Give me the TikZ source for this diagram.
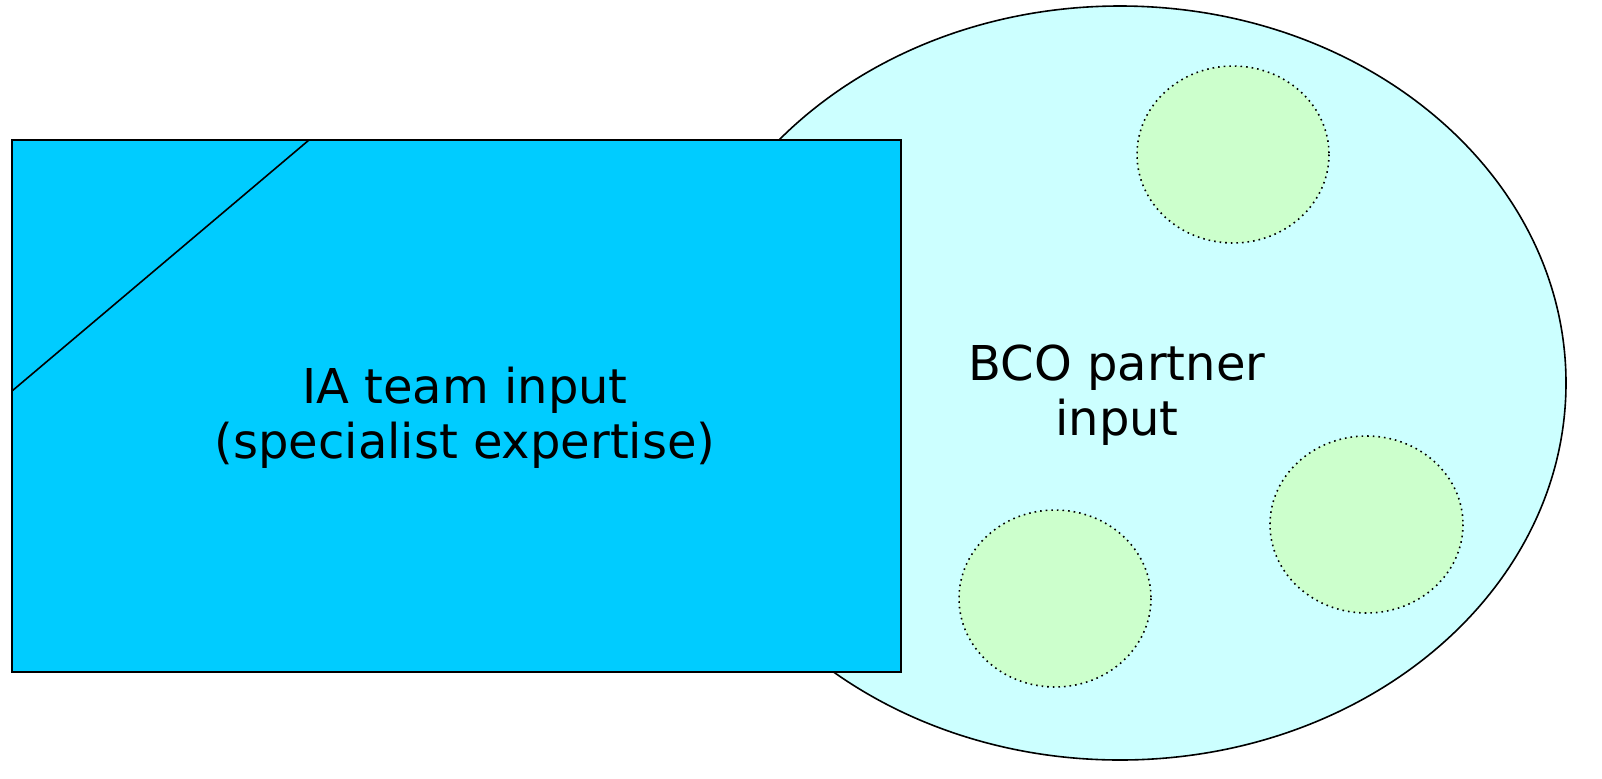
\documentclass[tikz,border=0pt]{standalone}
\usepackage{fontspec}
\setmainfont{DejaVu Sans}
\definecolor{rectblue}{HTML}{00CCFF}
\definecolor{palecyan}{HTML}{CCFFFF}
\definecolor{palegreen}{HTML}{CCFFCC}
\tikzset{
  bigoval/.style={draw=black, line width=0.8pt, fill=palecyan},
  subgroup/.style={draw=black, line width=0.8pt, dotted, fill=palegreen},
  iabox/.style={draw=black, line width=0.8pt, fill=rectblue},
  lbl/.style={font=\fontsize{24}{27.5}\selectfont, align=center, inner sep=0pt}
}
\begin{document}
\begin{tikzpicture}[x=0.5pt,y=-0.5pt]
\useasboundingbox (0,0) rectangle (1602,778);
\draw[bigoval] (1120,383) ellipse [x radius=446, y radius=377];
\draw[subgroup] (1233,154.5) ellipse [x radius=96, y radius=88.5];
\draw[subgroup] (1366.5,524.5) ellipse [x radius=96.5, y radius=88.5];
\draw[subgroup] (1055,598.5) ellipse [x radius=96, y radius=88.5];
\node[lbl] (bco) at (1117,395) {BCO partner\\input};
\draw[iabox] (12,140) rectangle (901,672);
\coordinate (d1) at (12,391);
\coordinate (d2) at (309,140);
\draw[line width=0.8pt] (d1) -- (d2);
\node[lbl] (ia) at (465,418) {IA team input\\(specialist expertise)};
\end{tikzpicture}
\end{document}
